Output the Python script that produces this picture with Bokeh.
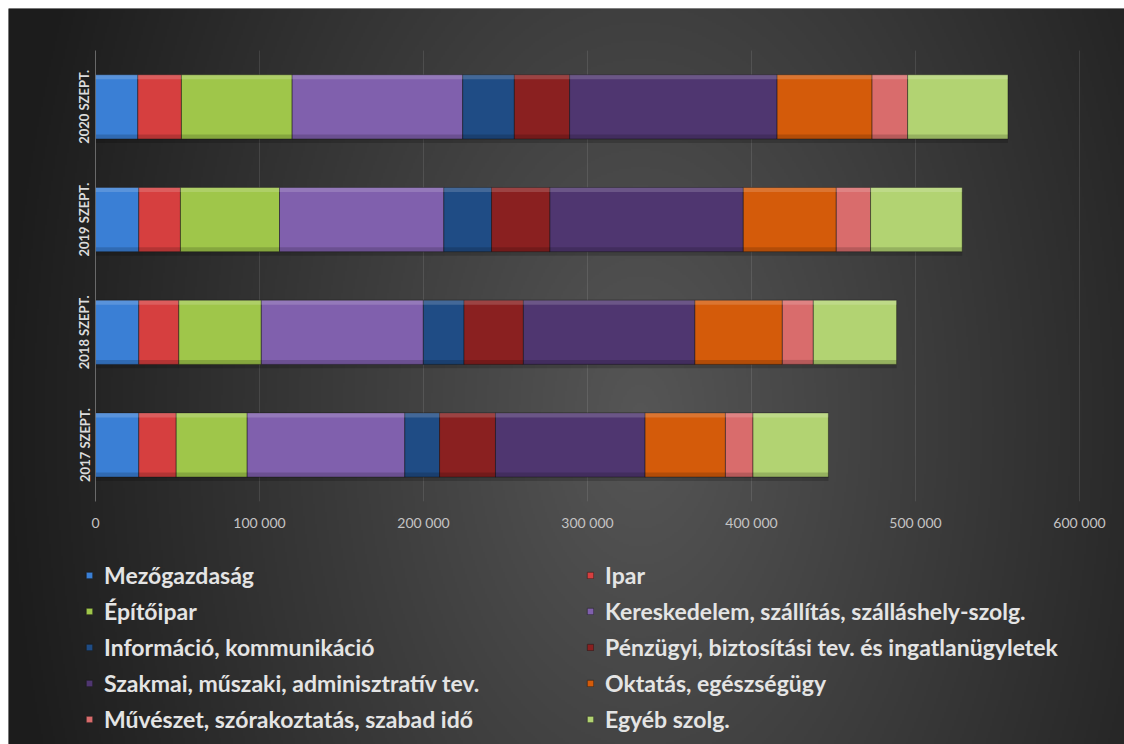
import numpy as np
from bokeh.plotting import figure
from bokeh.models import (ColumnDataSource, LinearAxis, FixedTicker, Legend,
                          LegendItem, Range1d)
from bokeh.transform import dodge
from bokeh.embed import file_html
from bokeh.resources import INLINE

# ---------------- data ----------------
categories = ["2017 SZEPT.", "2018 SZEPT.", "2019 SZEPT.", "2020 SZEPT."]

series_names = [
    "Mezőgazdaság",
    "Ipar",
    "Építőipar",
    "Kereskedelem, szállítás, szálláshely-szolg.",
    "Információ, kommunikáció",
    "Pénzügyi, biztosítási tev. és ingatlanügyletek",
    "Szakmai, műszaki, adminisztratív tev.",
    "Oktatás, egészségügy",
    "Művészet, szórakoztatás, szabad idő",
    "Egyéb szolg.",
]

mezogazdasag = [26400, 26400, 26400, 25800]
ipar = [22800, 24400, 25400, 26600]
epitoipar = [43300, 50300, 60400, 67500]
kereskedelem = [96100, 98800, 100200, 104000]
informacio = [21200, 24800, 29100, 31500]
penzugyi = [34100, 36200, 35600, 33700]
szakmai = [91200, 104600, 117900, 126500]
oktatas = [49000, 53300, 56700, 57900]
muveszet = [16800, 18900, 20900, 21700]
egyeb = [46000, 50800, 55900, 61200]

series_values = [mezogazdasag, ipar, epitoipar, kereskedelem, informacio,
                 penzugyi, szakmai, oktatas, muveszet, egyeb]

colors = ["#3a7fd5", "#d63f3f", "#9fc64a", "#8060ad", "#1f4c85",
          "#8a2020", "#4f3670", "#d45b0a", "#d96c6c", "#b2d372"]

x_ticks = [0, 100000, 200000, 300000, 400000, 500000, 600000]
x_tick_labels = ["0", "100 000", "200 000", "300 000", "400 000", "500 000", "600 000"]

# ---------------- geometry ----------------
MARGIN = 8
W, H = 1116, 736           # frame size
x0_px = 87.0               # frame px of value 0
px_per_val = 164.0 / 100000
x_start = -x0_px / px_per_val
x_end = (W - x0_px) / px_per_val

y0_px = 436.5              # frame px (from top) of first category centre
pitch = 112.7
y_start = -(H - y0_px) / pitch
y_end = y0_px / pitch

p = figure(width=W + MARGIN, height=H + MARGIN,
           x_range=Range1d(x_start, x_end), y_range=Range1d(y_start, y_end),
           x_axis_location=None, y_axis_location=None,
           min_border=0, min_border_left=MARGIN, min_border_top=MARGIN,
           toolbar_location=None, output_backend="svg",
           background_fill_color="#2e2e2e", border_fill_color="#ffffff",
           outline_line_color=None)
p.center = []

# ---------------- gradient background ----------------
gw, gh = W // 2, H // 2
gx = (np.arange(gw) + 0.5) * 2.0
gy = (np.arange(gh) + 0.5) * 2.0          # from bottom of frame
GX, GY = np.meshgrid(gx, gy)
cx, cy = 632.0, H - 412.0
r = np.sqrt(((GX - cx) / 640.0) ** 2 + ((GY - cy) / 1050.0) ** 2)
t = np.clip(1.0 - r, 0.0, 1.0)
val = (28 + (86 - 28) * t).astype(np.uint32)
img = (255 << 24) | (val << 16) | (val << 8) | val
p.image_rgba(image=[img.astype(np.uint32)], x=x_start, y=y_start,
             dw=x_end - x_start, dh=y_end - y_start)

# ---------------- grid lines (bounded to plot area) ----------------
n_cat = len(categories)
p.segment(x0=x_ticks, y0=[-0.5] * len(x_ticks), x1=x_ticks, y1=[n_cat - 0.5] * len(x_ticks),
          line_color="#ffffff", line_alpha=0.10, line_width=1)

# ---------------- bars ----------------
data = {"y": list(range(n_cat))}
keys = []
for i, vals in enumerate(series_values):
    k = f"s{i}"
    keys.append(k)
    data[k] = vals
source = ColumnDataSource(data)

BAR_H = 0.57
# soft shadow under bars
p.hbar_stack(keys, y=dodge("y", -0.035), height=BAR_H, source=source,
             fill_color=["#000000"] * len(keys), fill_alpha=0.18, line_color=None)

renderers = p.hbar_stack(keys, y="y", height=BAR_H, source=source,
                         fill_color=colors, line_color="#151515", line_alpha=0.45,
                         line_width=1)

# bevel: light top edge, dark bottom edge
p.hbar_stack(keys, y=dodge("y", BAR_H / 2 - 0.02), height=0.04, source=source,
             fill_color=["#ffffff"] * len(keys), fill_alpha=0.16, line_color=None)
p.hbar_stack(keys, y=dodge("y", -BAR_H / 2 + 0.02), height=0.04, source=source,
             fill_color=["#000000"] * len(keys), fill_alpha=0.16, line_color=None)

# ---------------- axes ----------------
xaxis = LinearAxis(fixed_location=-0.5,
                   ticker=FixedTicker(ticks=x_ticks),
                   major_label_overrides={t_: l for t_, l in zip(x_ticks, x_tick_labels)})
xaxis.axis_line_color = None
xaxis.major_tick_line_color = None
xaxis.minor_tick_line_color = None
xaxis.major_tick_out = 0
xaxis.major_tick_in = 0
xaxis.major_label_standoff = 13
xaxis.major_label_text_color = "#c4c4c4"
xaxis.major_label_text_font = "Lato"
xaxis.major_label_text_font_size = "14px"
p.add_layout(xaxis, "below")

yaxis = LinearAxis(fixed_location=0, bounds=(-0.5, n_cat - 0.5),
                   ticker=FixedTicker(ticks=list(range(n_cat))),
                   major_label_overrides={i: c for i, c in enumerate(categories)})
yaxis.axis_line_color = "#8a8a8a"
yaxis.axis_line_alpha = 0.6
yaxis.major_tick_line_color = None
yaxis.minor_tick_line_color = None
yaxis.major_tick_out = 0
yaxis.major_tick_in = 0
yaxis.major_label_orientation = "vertical"
yaxis.major_label_standoff = 3
yaxis.major_label_text_color = "#dcdcdc"
yaxis.major_label_text_font = "Lato"
yaxis.major_label_text_font_style = "bold"
yaxis.major_label_text_font_size = "13px"
p.add_layout(yaxis, "left")

# ---------------- legends (two columns) ----------------
item_h = 30
spacing = 6
n_rows = 5
leg_h = n_rows * item_h + (n_rows - 1) * spacing
first_row_center = 567.0
leg_bottom = int(round(H - (first_row_center - item_h / 2 + leg_h)))

left_items = [LegendItem(label=series_names[i], renderers=[renderers[i]]) for i in range(0, 10, 2)]
right_items = [LegendItem(label=series_names[i], renderers=[renderers[i]]) for i in range(1, 10, 2)]

for items, lx in ((left_items, 77), (right_items, 578)):
    leg = Legend(items=items, location=(lx, leg_bottom), orientation="vertical",
                 padding=0, margin=0, spacing=spacing,
                 glyph_width=8, glyph_height=8, label_height=item_h,
                 label_standoff=11,
                 background_fill_alpha=0, border_line_alpha=0,
                 label_text_font="Lato", label_text_font_style="bold",
                 label_text_font_size="23px", label_text_color="#e4e4e4")
    p.add_layout(leg, "center")

open("out.html", "w").write(file_html(p, INLINE))
